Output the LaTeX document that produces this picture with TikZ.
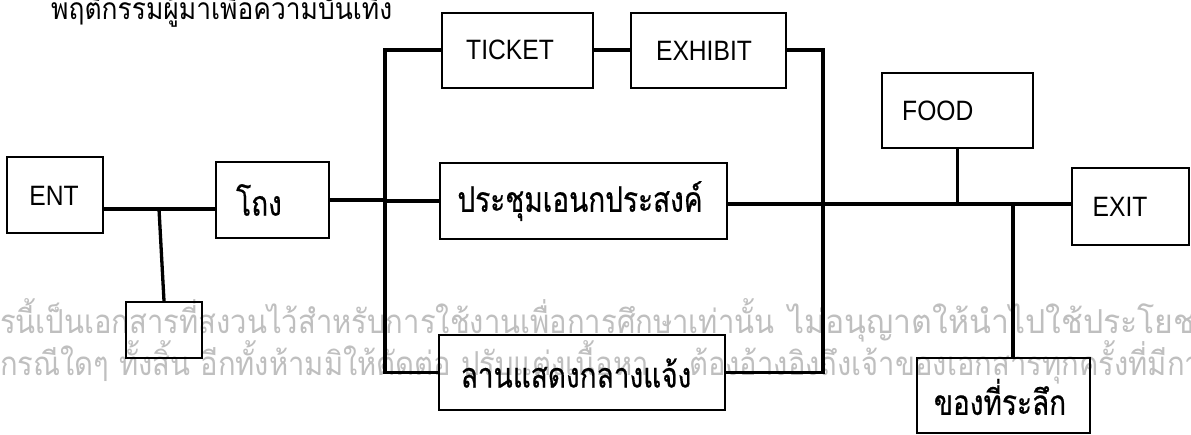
\documentclass[tikz,border=0pt]{standalone}
\usepackage{fontspec}
\newfontfamily\thaic[Script=Thai,FakeStretch=0.80,FakeBold=0.5]{Loma}
\newfontfamily\thait[Script=Thai,FakeStretch=0.88]{Loma}
\newfontfamily\thaiw[Script=Thai,FakeStretch=0.885]{Loma}
\newfontfamily\thaiww[Script=Thai,FakeStretch=0.97]{Loma}
\newfontfamily\lat[FakeStretch=0.88]{Liberation Sans}
\begin{document}
\begin{tikzpicture}[x=1pt,y=-1pt,
  box/.style={draw=black,line width=2pt,inner sep=0pt,fill=none},
  conn/.style={line width=3.3pt,line cap=rect},
  latlbl/.style={font=\lat\fontsize{28}{30}\selectfont,inner sep=0pt},
  thlbl/.style={font=\thaic\fontsize{35}{37}\selectfont,inner sep=0pt},
  wm/.style={font=\thaiw\fontsize{33}{35}\selectfont,text=black!25,inner sep=0pt,anchor=base west}]
\useasboundingbox (0,0) rectangle (1191,434);
\clip (0,0) rectangle (1191,434);
\fill[white] (0,0) rectangle (1191,434);
% watermark
\node[wm] (wm1) at (0,333) {รนี้เป็นเอกสารที่สงวนไว้สำหรับการใช้งานเพื่อการศึกษาเท่านั้น\hspace{14pt}{\thaiww ไม่อนุญาตให้นำไปใช้ประโยชน์}};
\node[wm] (wm2) at (0,375) {กรณีใดๆ ทั้งสิ้น อีกทั้งห้ามมิให้ตัดต่อ ปรับแต่งเนื้อหา\hspace{40pt}ต้องอ้างอิงถึงเจ้าของเอกสารทุกครั้งที่มีการ};
% title
\node[font=\thait\fontsize{30}{32}\selectfont,inner sep=0pt,anchor=base west] (title) at (51,19) {พฤติกรรมผู้มาเพื่อความบันเทิง};
% boxes
\node[box,minimum width=96pt,minimum height=76pt] (ent) at (55,195) {};
\node[latlbl] (entl) at (54,196) {ENT};
\node[box,minimum width=76pt,minimum height=56pt] (small) at (164,330) {};
\node[box,minimum width=113pt,minimum height=76pt] (hall) at (272.5,200) {};
\node[thlbl,anchor=west] (halll) at (236,200) {โถง};
\node[box,minimum width=151pt,minimum height=75pt] (ticket) at (517.5,50) {};
\node[latlbl] (ticketl) at (510,50) {TICKET};
\node[box,minimum width=155pt,minimum height=75pt] (exhibit) at (708.5,50) {};
\node[latlbl] (exhibitl) at (704,51) {EXHIBIT};
\node[box,minimum width=287pt,minimum height=76pt] (meet) at (583.5,201) {};
\node[thlbl] (meetl) at (580,201) {ประชุมเอนกประสงค์};
\node[box,minimum width=286pt,minimum height=75pt] (stage) at (582,372.5) {};
\node[thlbl] (stagel) at (576,373) {ลานแสดงกลางแจ้ง};
\node[box,minimum width=151pt,minimum height=75pt] (food) at (957.5,110.5) {};
\node[latlbl,anchor=west] (foodl) at (902,111) {FOOD};
\node[box,minimum width=117pt,minimum height=77pt] (exit) at (1130.5,206.5) {};
\node[latlbl] (exitl) at (1120,207) {EXIT};
\node[box,minimum width=173pt,minimum height=75pt] (souv) at (1003.5,395.5) {};
\node[thlbl] (souvl) at (1000,397) {ของที่ระลึก};
% junction coordinates
\coordinate (j1) at (159,209);
\coordinate (lb) at (385,372);
\coordinate (rb) at (823,372);
\coordinate (m) at (1013,204);
% connectors
\draw[conn] (ent.east|-j1) -- (hall.west|-j1);
\draw[conn] (j1) -- (small.north);
\draw[conn] (hall.east) -- (hall.east-|lb);
\draw[conn] (ticket.west) -| (lb) |- (stage.west);
\draw[conn] (meet.west) -- (meet.west-|lb);
\draw[conn] (ticket.east) -- (exhibit.west);
\draw[conn] (exhibit.east) -| (rb) |- (stage.east);
\draw[conn] (meet.east|-m) -- (exit.west|-m);
\draw[conn] (food.south) -- (food.south|-m);
\draw[conn] (m) -- (m|-souv.north);
\end{tikzpicture}
\end{document}
